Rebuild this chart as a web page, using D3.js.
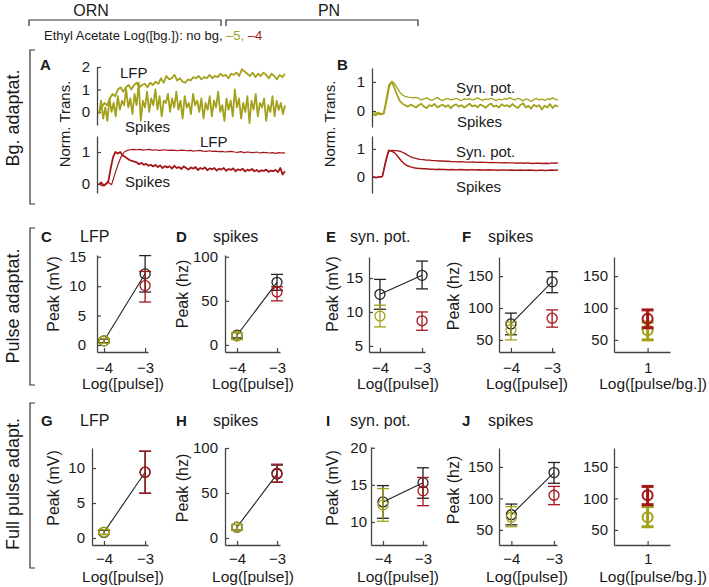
<!DOCTYPE html>
<html>
<head>
<meta charset="utf-8">
<script src="https://cdn.jsdelivr.net/npm/d3@7"></script>
<style>
  body { margin: 0; background: #fff; }
  text { font-family: "Liberation Sans", Arial, sans-serif; fill: #1a1a1a; }
</style>
</head>
<body>
<script>
'use strict';

const OLIVE = "#a3a11b";
const RED = "#a3161a";
const BLACK = "#222";

// ---- panel A traces (ORN, norm. transient) ----
const aLfpBg5 = [0.0, 0.2, 0.4, 0.3, 0.6, 0.8, 0.7, 1.0, 1.1, 0.9, 1.1, 1.2, 1.0, 1.2, 1.3, 1.1, 1.2, 1.25, 1.1, 1.3,
  1.2, 1.35, 1.25, 1.5, 1.3, 1.6, 1.45, 1.5, 1.65, 1.4, 1.5, 1.35, 1.3, 1.45, 1.4, 1.55, 1.5, 1.6, 1.45, 1.55,
  1.5, 1.65, 1.5, 1.6, 1.55, 1.7, 1.6, 1.65, 1.5, 1.7, 1.65, 1.75, 1.6, 1.9, 1.8, 1.7, 1.6, 1.75, 1.55, 1.7,
  1.6, 1.75, 1.65, 1.5, 1.7, 1.6, 1.45, 1.65, 1.55, 1.7];
const aSpkBg5 = [-0.1, 0.5, -0.3, 0.2, -0.4, 0.6, 0.0, 0.4, -0.2, 0.7, 0.1, 0.5, 0.3, 1.0, 0.2, 0.6, -0.1, 0.8, 0.3, 1.3,
  -0.4, 0.5, 0.2, 0.9, 0.0, 0.6, 0.3, 1.0, 0.1, 0.7, -0.2, 0.5, 0.4, 0.8, 0.0, 0.6, 0.2, 0.9, 0.1, 0.5,
  -0.3, 0.7, 0.2, 0.4, -0.1, 0.8, 0.3, 0.5, 0.0, 0.6, -0.3, 0.4, 0.1, 0.7, -0.2, 0.5, 0.2, 0.9, 0.0, 0.3,
  -0.4, 0.6, 0.1, 0.5, -0.2, 1.0, 0.2, 0.6, -0.3, 0.4, 0.0, 0.7, -0.5, 0.5, 0.1, 0.8, -0.2, 0.4, 0.2, 0.6,
  -0.4, 0.3, 0.0, 0.7, -0.2, 0.5, 0.1, 0.4, -0.1, 0.3];
const aLfpBg4 = [0.0, -0.05, 0.0, 0.05, -0.02, 0.3, 0.6, 0.85, 1.0, 1.05, 1.07, 1.08, 1.07, 1.08, 1.06, 1.07, 1.08, 1.06, 1.07, 1.05,
  1.06, 1.07, 1.05, 1.06, 1.05, 1.04, 1.06, 1.05, 1.04, 1.05, 1.03, 1.04, 1.05, 1.03, 1.02, 1.04, 1.02, 1.03, 1.01, 1.02,
  1.0, 1.01, 1.02, 1.0, 0.99, 1.01, 0.98, 1.0, 0.99, 0.98, 1.0, 0.97, 0.99, 0.98, 0.97, 0.98, 0.96, 0.98, 0.97, 0.97];
const aSpkBg4 = [0.0, 0.05, -0.05, 0.0, 0.1, 0.5, 0.85, 1.0, 0.95, 1.0, 0.9, 0.85, 0.8, 0.75, 0.72, 0.7, 0.68, 0.62, 0.66, 0.6,
  0.63, 0.57, 0.6, 0.55, 0.6, 0.53, 0.58, 0.5, 0.56, 0.52, 0.55, 0.48, 0.57, 0.5, 0.53, 0.47, 0.55, 0.5, 0.45, 0.52,
  0.48, 0.53, 0.44, 0.5, 0.47, 0.52, 0.43, 0.49, 0.46, 0.5, 0.42, 0.48, 0.45, 0.5, 0.41, 0.47, 0.44, 0.49, 0.4, 0.46,
  0.43, 0.48, 0.39, 0.45, 0.42, 0.47, 0.4, 0.44, 0.38, 0.43, 0.41, 0.45, 0.38, 0.42, 0.4, 0.44, 0.37, 0.5, 0.3, 0.4];

// ---- panel B traces (PN) ----
const bSynBg5 = [-0.1, -0.05, -0.12, -0.08, -0.1, 0.3, 0.8, 1.02, 0.95, 0.8, 0.65, 0.55, 0.5, 0.48, 0.47, 0.45, 0.47, 0.44, 0.38, 0.42,
  0.45, 0.4, 0.37, 0.42, 0.46, 0.4, 0.36, 0.41, 0.43, 0.38, 0.4, 0.44, 0.39, 0.36, 0.42, 0.4, 0.43, 0.38, 0.41, 0.45,
  0.4, 0.37, 0.42, 0.39, 0.44, 0.4, 0.36, 0.41, 0.38, 0.43, 0.4, 0.46, 0.41, 0.38, 0.44, 0.4, 0.35, 0.42, 0.39, 0.33,
  0.4, 0.43, 0.38, 0.41, 0.36, 0.42, 0.4, 0.45, 0.4, 0.38];
const bSpkBg5 = [-0.1, -0.15, -0.05, -0.12, -0.08, 0.4, 0.9, 1.0, 0.8, 0.55, 0.35, 0.25, 0.2, 0.15, 0.22, 0.18, 0.12, 0.2, 0.25, 0.15,
  0.1, 0.2, 0.17, 0.24, 0.12, 0.18, 0.22, 0.14, 0.2, 0.1, 0.19, 0.23, 0.15, 0.2, 0.12, 0.18, 0.25, 0.16, 0.2, 0.13,
  0.22, 0.18, 0.11, 0.2, 0.26, 0.15, 0.19, 0.12, 0.23, 0.17, 0.2, 0.14, 0.24, 0.16, 0.1, 0.21, 0.27, 0.12, 0.18, 0.08,
  0.22, 0.15, 0.2, 0.05, 0.18, 0.12, 0.24, 0.1, 0.2, 0.15];
const bSynBg4 = [0.0, -0.02, 0.0, 0.02, 0.5, 0.92, 0.95, 0.94, 0.93, 0.9, 0.85, 0.78, 0.72, 0.68, 0.65, 0.63, 0.62, 0.6, 0.6, 0.58,
  0.58, 0.57, 0.57, 0.56, 0.56, 0.55, 0.55, 0.54, 0.55, 0.54, 0.53, 0.53, 0.54, 0.52, 0.53, 0.52, 0.52, 0.51, 0.52, 0.51,
  0.51, 0.5, 0.51, 0.5, 0.5, 0.5, 0.49, 0.5, 0.49, 0.5, 0.49, 0.48, 0.49, 0.49, 0.48, 0.49, 0.48, 0.5, 0.49, 0.5];
const bSpkBg4 = [0.0, -0.02, 0.0, 0.02, 0.55, 0.95, 0.92, 0.85, 0.72, 0.58, 0.47, 0.4, 0.36, 0.33, 0.31, 0.3, 0.29, 0.29, 0.28, 0.28,
  0.27, 0.28, 0.27, 0.27, 0.26, 0.27, 0.26, 0.26, 0.27, 0.26, 0.25, 0.26, 0.26, 0.25, 0.26, 0.25, 0.25, 0.26, 0.25, 0.25,
  0.24, 0.25, 0.25, 0.24, 0.25, 0.24, 0.24, 0.25, 0.24, 0.24, 0.25, 0.24, 0.23, 0.24, 0.24, 0.23, 0.24, 0.25, 0.24, 0.25];

// ---- peak responses: [log conc, mean, err low, err high] ----
const cNoBg = [[-4, 0.7, 0.4, 1.0], [-3, 12.1, 9.0, 15.2]];
const cBg5 = [[-4, 0.7, 0.3, 1.1]];
const cBg4 = [[-3, 10.1, 7.3, 12.5]];
const dNoBg = [[-4, 11, 8, 14], [-3, 71, 62, 80]];
const dBg5 = [[-4, 10, 6, 14]];
const dBg4 = [[-3, 60, 50, 66]];
const eNoBg = [[-4, 12.6, 10.4, 14.8], [-3, 15.4, 13.4, 17.5]];
const eBg5 = [[-4, 9.4, 7.8, 11.0]];
const eBg4 = [[-3, 8.7, 7.3, 10.0]];
const fNoBg = [[-4, 75, 58, 92], [-3, 141, 124, 157]];
const fBg5 = [[-4, 66, 50, 78]];
const fBg4 = [[-3, 84, 70, 97]];
const fRatioBg5 = [[1, 65, 50, 78]];
const fRatioBg4 = [[1, 83, 69, 97]];
const gNoBg = [[-4, 0.8, 0.5, 1.1], [-3, 9.4, 6.4, 12.4]];
const gBg5 = [[-4, 0.85, 0.5, 1.2]];
const gBg4 = [[-3, 9.4, 6.4, 12.4]];
const hNoBg = [[-4, 12, 9, 15], [-3, 71, 62, 81]];
const hBg5 = [[-4, 12, 9, 15]];
const hBg4 = [[-3, 72, 62, 82]];
const iNoBg = [[-4, 12.7, 10.5, 14.9], [-3, 15.3, 13.2, 17.3]];
const iBg5 = [[-4, 12.3, 10.1, 14.5]];
const iBg4 = [[-3, 14.2, 12.2, 16.0]];
const jNoBg = [[-4, 74, 58, 91], [-3, 141, 124, 157]];
const jBg5 = [[-4, 70, 55, 87]];
const jBg4 = [[-3, 105, 90, 119]];
const jRatioBg5 = [[1, 70, 55, 87]];
const jRatioBg4 = [[1, 105, 90, 119]];

const pulseTicks = [-4, -3];
const ratioTicks = [1];

const svg = d3.select("body").append("svg")
  .attr("width", 709)
  .attr("height", 587);

const fmt = (d) => String(d).replace("-", "\u2212");

// plain text helper
function label(x, y, s, size, opts) {
  opts = opts || {};
  let t = svg.append("text")
    .attr("x", x).attr("y", y)
    .style("font-size", size + "px")
    .attr("text-anchor", opts.anchor || "start")
    .text(s);
  if (opts.bold) t.style("font-weight", "bold");
  return t;
}

// rotated label centred on (x, y)
function vlabel(x, y, s, size) {
  svg.append("text")
    .attr("transform", `translate(${x},${y})rotate(-90)`)
    .attr("text-anchor", "middle")
    .attr("dy", "0.35em")
    .style("font-size", size + "px")
    .text(s);
}

function styleAxis(g) {
  g.select(".domain").attr("stroke", "#444").attr("stroke-width", 1.3);
  g.selectAll(".tick line").attr("stroke", "#444").attr("stroke-width", 1.2);
  g.selectAll(".tick text")
    .style("font-size", "15px")
    .style("font-family", '"Liberation Sans", Arial, sans-serif')
    .attr("fill", "#1a1a1a");
}

// ---- header ----
label(91, 16, "ORN", 16, { anchor: "middle" });
label(329, 16, "PN", 16, { anchor: "middle" });
svg.append("path").attr("d", "M29,26V20H221V26").attr("fill", "none").attr("stroke", "#333").attr("stroke-width", 1.2);
svg.append("path").attr("d", "M226,26V20H418V26").attr("fill", "none").attr("stroke", "#333").attr("stroke-width", 1.2);

let legend = svg.append("text").attr("x", 44).attr("y", 40).style("font-size", "13px");
legend.append("tspan").text("Ethyl Acetate Log([bg.]): no bg, ");
legend.append("tspan").style("fill", OLIVE).text("\u20135, ");
legend.append("tspan").style("fill", RED).text("\u20134");

// ---- row brackets and row labels ----
[[50, 204], [228, 385], [403, 568]].forEach((r) => {
  svg.append("path").attr("d", `M35,${r[0]}H30V${r[1]}H35`)
    .attr("fill", "none").attr("stroke", "#333").attr("stroke-width", 1.2);
});
vlabel(13, 118, "Bg. adaptat.", 18);
vlabel(13, 306, "Pulse adaptat.", 18);
vlabel(13, 484, "Full pulse adapt.", 18);

// ---- trace panels ----
function tracePanel(box, yDom, ticks, series) {
  let y = d3.scaleLinear().domain(yDom).range([box.y1, box.y0]);
  svg.append("g")
    .attr("transform", `translate(${box.x0},0)`)
    .call(d3.axisLeft(y).tickValues(ticks).tickFormat(fmt).tickSizeInner(-4).tickSizeOuter(0).tickPadding(7))
    .call(styleAxis);
  series.forEach((s) => {
    let x = d3.scaleLinear().domain([0, s.values.length - 1]).range([box.t0, box.t1]);
    svg.append("path")
      .datum(s.values)
      .attr("d", d3.line().x((d, i) => x(i)).y((d) => y(d)))
      .attr("fill", "none")
      .attr("stroke", s.color)
      .attr("stroke-width", s.w)
      .attr("stroke-linejoin", "round");
  });
}

tracePanel({ x0: 97, y0: 67, y1: 125, t0: 99, t1: 285 }, [-0.58, 2], [0, 1, 2],
  [{ values: aSpkBg5, color: OLIVE, w: 1.8 }, { values: aLfpBg5, color: OLIVE, w: 1.8 }]);
tracePanel({ x0: 97, y0: 136, y1: 193, t0: 99, t1: 285 }, [-0.28, 1.5], [0, 1],
  [{ values: aLfpBg4, color: RED, w: 1.2 }, { values: aSpkBg4, color: RED, w: 1.8 }]);
tracePanel({ x0: 372, y0: 68, y1: 127, t0: 373, t1: 558 }, [-0.55, 1.48], [0, 1],
  [{ values: bSynBg5, color: OLIVE, w: 1.3 }, { values: bSpkBg5, color: OLIVE, w: 1.8 }]);
tracePanel({ x0: 372, y0: 136, y1: 193, t0: 373, t1: 558 }, [-0.57, 1.46], [0, 1],
  [{ values: bSynBg4, color: RED, w: 1.3 }, { values: bSpkBg4, color: RED, w: 1.5 }]);

label(40, 70, "A", 15, { bold: true });
label(337, 70, "B", 15, { bold: true });
vlabel(65, 124, "Norm. Trans.", 15);
vlabel(330, 124, "Norm. Trans.", 15);
label(120, 78, "LFP", 15);
label(125, 132, "Spikes", 15);
label(200, 147, "LFP", 15);
label(125, 187, "Spikes", 15);
label(456, 93, "Syn. pot.", 15);
label(457, 127, "Spikes", 15);
label(456, 157, "Syn. pot.", 15);
label(456, 192, "Spikes", 15);

// ---- peak panels ----
function peakPanel(p) {
  let x = d3.scaleLinear().domain(p.xDom).range([p.x0, p.x1]);
  let y = d3.scaleLinear().domain(p.yDom).range([p.y1, p.y0]);

  svg.append("g")
    .attr("transform", `translate(0,${p.y1})`)
    .call(d3.axisBottom(x).tickValues(p.xTicks).tickFormat(fmt).tickSizeInner(-4).tickSizeOuter(0).tickPadding(p.xPad || 9))
    .call(styleAxis);
  svg.append("g")
    .attr("transform", `translate(${p.x0},0)`)
    .call(d3.axisLeft(y).tickValues(p.yTicks).tickFormat(fmt).tickSizeInner(-4).tickSizeOuter(0).tickPadding(p.yPad || 7))
    .call(styleAxis);

  let thick = p.thick ? 3 : 1.3;
  let g = svg.append("g");

  function points(data, color) {
    if (!data) return;
    data.forEach((d) => {
      let cx = x(d[0]);
      g.append("line").attr("x1", cx).attr("x2", cx).attr("y1", y(d[2])).attr("y2", y(d[3]))
        .attr("stroke", color).attr("stroke-width", thick);
      [d[2], d[3]].forEach((v) => {
        g.append("line").attr("x1", cx - 6).attr("x2", cx + 6).attr("y1", y(v)).attr("y2", y(v))
          .attr("stroke", color).attr("stroke-width", thick);
      });
      g.append("circle").attr("cx", cx).attr("cy", y(d[1])).attr("r", 5)
        .attr("fill", "none").attr("stroke", color).attr("stroke-width", p.thick ? 2 : 1.3);
    });
  }

  points(p.black, BLACK);
  if (p.black && p.black.length > 1) {
    g.append("path")
      .datum(p.black)
      .attr("d", d3.line().x((d) => x(d[0])).y((d) => y(d[1])))
      .attr("fill", "none").attr("stroke", BLACK).attr("stroke-width", 1.1);
  }
  points(p.green, OLIVE);
  points(p.red, RED);
}

const row2 = { y0: 255, y1: 352, xPad: 10 };
const row3 = { y0: 448, y1: 545, xPad: 8 };

peakPanel(Object.assign({}, row2, { x0: 97, x1: 148, xDom: [-4.17, -2.93], yDom: [-1.2, 15.3], xTicks: pulseTicks, yTicks: [0, 5, 10, 15], yPad: 11, black: cNoBg, green: cBg5, red: cBg4 }));
peakPanel(Object.assign({}, row2, { x0: 225, x1: 280, xDom: [-4.3, -2.925], yDom: [-8, 102], xTicks: pulseTicks, yTicks: [0, 50, 100], black: dNoBg, green: dBg5, red: dBg4 }));
peakPanel(Object.assign({}, row2, { x0: 369, x1: 425, y0: 257, xDom: [-4.26, -2.93], yDom: [4.1, 18.1], xTicks: pulseTicks, yTicks: [5, 10, 15], yPad: 6, black: eNoBg, green: eBg5, red: eBg4 }));
peakPanel(Object.assign({}, row2, { x0: 499, x1: 555, y0: 257, xDom: [-4.29, -2.93], yDom: [31, 180], xTicks: pulseTicks, yTicks: [50, 100, 150], yPad: 6, black: fNoBg, green: fBg5, red: fBg4 }));
peakPanel(Object.assign({}, row2, { x0: 614, x1: 670, y0: 257, xDom: [0.4, 1.4], yDom: [31, 180], xTicks: ratioTicks, yTicks: [50, 100, 150], yPad: 6, thick: true, green: fRatioBg5, red: fRatioBg4 }));

peakPanel(Object.assign({}, row3, { x0: 92, x1: 148, xDom: [-4.29, -2.93], yDom: [-1, 12.86], xTicks: pulseTicks, yTicks: [0, 5, 10], black: gNoBg, green: gBg5, red: gBg4 }));
peakPanel(Object.assign({}, row3, { x0: 225, x1: 280, xDom: [-4.3, -2.925], yDom: [-7.8, 100], xTicks: pulseTicks, yTicks: [0, 50, 100], black: hNoBg, green: hBg5, red: hBg4 }));
peakPanel(Object.assign({}, row3, { x0: 371, x1: 427, y0: 447, xDom: [-4.3, -2.9], yDom: [6.9, 20.1], xTicks: pulseTicks, yTicks: [10, 15, 20], yPad: 4, black: iNoBg, green: iBg5, red: iBg4 }));
peakPanel(Object.assign({}, row3, { x0: 499, x1: 557, xDom: [-4.29, -2.93], yDom: [26, 180], xTicks: pulseTicks, yTicks: [50, 100, 150], yPad: 6, black: jNoBg, green: jBg5, red: jBg4 }));
peakPanel(Object.assign({}, row3, { x0: 614, x1: 670, xDom: [0.4, 1.4], yDom: [26, 180], xTicks: ratioTicks, yTicks: [50, 100, 150], yPad: 6, thick: true, green: jRatioBg5, red: jRatioBg4 }));

// ---- peak panel titles and axis labels ----
[[242, ["C", "LFP"], ["D", "spikes"], ["E", "syn. pot."], ["F", "spikes"]],
 [426, ["G", "LFP"], ["H", "spikes"], ["I", "syn. pot."], ["J", "spikes"]]].forEach((row) => {
  let yb = row[0];
  let lx = [[41, 80], [176, 213], [326, 350], [462, 488]];
  row.slice(1).forEach((t, i) => {
    label(lx[i][0], yb, t[0], 15, { bold: true });
    label(lx[i][1], yb, t[1], 16);
  });
});

[[294, 389], [488, 582]].forEach((r) => {
  vlabel(53, r[0], "Peak (mV)", 16);
  vlabel(182, r[0], "Peak (hz)", 16);
  vlabel(332, r[0], "Peak (mV)", 16);
  vlabel(453, r[0] + 2, "Peak (hz)", 16);
  label(123, r[1], "Log([pulse])", 15.5, { anchor: "middle" });
  label(253, r[1], "Log([pulse])", 15.5, { anchor: "middle" });
  label(398, r[1], "Log([pulse])", 15.5, { anchor: "middle" });
  label(527, r[1], "Log([pulse])", 15.5, { anchor: "middle" });
  label(653, r[1], "Log([pulse/bg.])", 15.5, { anchor: "middle" });
});
</script>
</body>
</html>
